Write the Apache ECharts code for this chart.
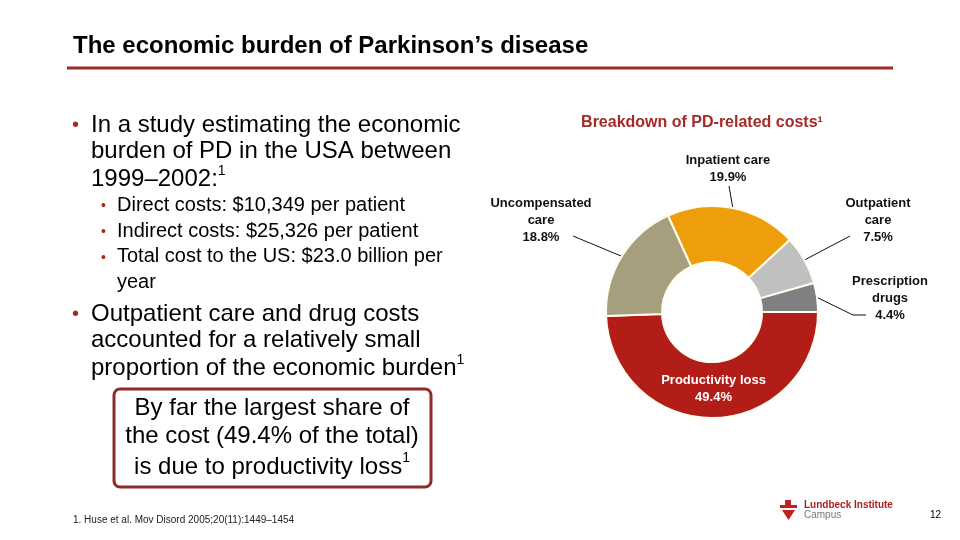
<!DOCTYPE html>
<html>
<head>
<meta charset="utf-8">
<script src="https://cdn.jsdelivr.net/npm/echarts@6/dist/echarts.min.js"></script>
<style>
  html, body { margin: 0; padding: 0; background: #fff; }
  #myChart { width: 960px; height: 540px; }
</style>
</head>
<body>
<div id="myChart"></div>
<script>
// data
var categories = ["Productivity loss", "Uncompensated\ncare", "Inpatient care", "Outpatient\ncare", "Prescription\ndrugs"];
var shares = [49.4, 18.8, 19.9, 7.5, 4.4];
var sliceColors = ["#B31D18", "#A59F80", "#EE9D0B", "#C0C0C0", "#808080"];

// where the outside labels sit (text centre) and the elbow of their leader line
var labelSpots = {
  1: { x: 541, y: 220, elbow: [573, 236] },
  2: { x: 728, y: 169, elbow: [729, 186] },
  3: { x: 878, y: 220, elbow: [850, 236] },
  4: { x: 890, y: 298, elbow: [853, 315], end: [866, 315] }
};

var FONT = "'Liberation Sans', Arial, sans-serif";
var RED = "#9E2A25";

var myChart = echarts.init(document.getElementById("myChart"));

var pieData = categories.map(function (name, i) {
  var item = { name: name, value: shares[i], itemStyle: { color: sliceColors[i] } };
  if (i === 0) {
    item.label = {
      position: "inside",
      formatter: "{w|{b}}\n{w|{c}%}",
      rich: { w: { color: "#fff", fontWeight: "bold", fontSize: 13, fontFamily: FONT, lineHeight: 17 } }
    };
    item.labelLine = { show: false };
  }
  return item;
});

var option = {
  animation: false,
  backgroundColor: "#fff",
  title: {
    text: "Breakdown of PD-related costs\u00b9",
    left: 697,
    top: 110,
    textAlign: "center",
    textStyle: { color: "#A52A2A", fontSize: 16, fontWeight: "bold", fontFamily: FONT }
  },
  series: [
    {
      type: "pie",
      center: [712, 312],
      radius: [50, 106],
      startAngle: 0,
      clockwise: true,
      avoidLabelOverlap: false,
      itemStyle: { borderColor: "#FFFDF0", borderWidth: 2 },
      label: {
        show: true,
        position: "outside",
        formatter: "{b}\n{c}%",
        color: "#111",
        fontSize: 13,
        fontWeight: "bold",
        fontFamily: FONT,
        lineHeight: 17,
        align: "center"
      },
      labelLine: { show: true, lineStyle: { color: "#111", width: 1 } },
      labelLayout: function (params) {
        if (params.dataIndex === 0) return { dy: -4 };
        var s = labelSpots[params.dataIndex];
        if (!s) return {};
        var p0 = params.labelLinePoints ? params.labelLinePoints[0] : s.elbow;
        var pts = [p0, s.elbow];
        if (s.end) pts.push(s.end);
        return {
          x: s.x,
          y: s.y,
          align: "center",
          verticalAlign: "middle",
          labelLinePoints: pts
        };
      },
      data: pieData
    }
  ],
  graphic: [
    // slide title and rule
    { type: "text", left: 73, top: 34, style: { text: "The economic burden of Parkinson\u2019s disease", font: "bold 24px " + FONT, fill: "#000" } },
    { type: "rect", shape: { x: 67, y: 66.5, width: 826, height: 3 }, style: { fill: RED } },

    // bullet 1
    { type: "text", x: 72, y: 125, style: { text: "\u2022", font: "20px " + FONT, fill: RED, verticalAlign: "middle" } },
    { type: "text", x: 91, y: 112, style: {
      text: "In a study estimating the economic\nburden of PD in the USA between\n{t|1999\u20132002:}{s|1}",
      font: "24px " + FONT, fill: "#000", lineHeight: 26,
      rich: { t: { font: "24px " + FONT, fill: "#000" }, s: { font: "14px " + FONT, fill: "#000", verticalAlign: "top", lineHeight: 30 } }
    } },

    // sub bullets
    { type: "text", x: 101, y: 206, style: { text: "\u2022", font: "14px " + FONT, fill: RED, verticalAlign: "middle" } },
    { type: "text", x: 101, y: 232, style: { text: "\u2022", font: "14px " + FONT, fill: RED, verticalAlign: "middle" } },
    { type: "text", x: 101, y: 258, style: { text: "\u2022", font: "14px " + FONT, fill: RED, verticalAlign: "middle" } },
    { type: "text", x: 117, y: 193, style: {
      text: "Direct costs: $10,349 per patient\nIndirect costs: $25,326 per patient\nTotal cost to the US: $23.0 billion per\nyear",
      font: "20px " + FONT, fill: "#000", lineHeight: 25.5
    } },

    // bullet 2
    { type: "text", x: 72, y: 314, style: { text: "\u2022", font: "20px " + FONT, fill: RED, verticalAlign: "middle" } },
    { type: "text", x: 91, y: 301, style: {
      text: "Outpatient care and drug costs\naccounted for a relatively small\n{t|proportion of the economic burden}{s|1}",
      font: "24px " + FONT, fill: "#000", lineHeight: 26,
      rich: { t: { font: "24px " + FONT, fill: "#000" }, s: { font: "14px " + FONT, fill: "#000", verticalAlign: "top", lineHeight: 30 } }
    } },

    // call-out box
    { type: "rect", shape: { x: 114, y: 389, width: 317, height: 98, r: 6 }, style: { fill: "#fff", stroke: "#8E2B2B", lineWidth: 3 } },
    { type: "text", x: 272, y: 394, style: {
      text: "By far the largest share of\nthe cost (49.4% of the total)\n{t|is due to productivity loss}{s|1}",
      font: "24px " + FONT, fill: "#000", lineHeight: 28.5, align: "center",
      rich: { t: { font: "24px " + FONT, fill: "#000" }, s: { font: "14px " + FONT, fill: "#000", verticalAlign: "top", lineHeight: 32 } }
    } },

    // footnote
    { type: "text", x: 73, y: 520, style: { text: "1. Huse et al. Mov Disord 2005;20(11):1449\u20131454", font: "10px " + FONT, fill: "#222", verticalAlign: "middle" } },

    // logo and page number
    { type: "rect", shape: { x: 785, y: 500, width: 6, height: 5 }, style: { fill: "#C0201E" } },
    { type: "rect", shape: { x: 780, y: 505, width: 17, height: 3 }, style: { fill: "#C0201E" } },
    { type: "polygon", shape: { points: [[782, 510], [795, 510], [788.5, 520]] }, style: { fill: "#C0201E" } },
    { type: "text", x: 804, y: 505, style: { text: "Lundbeck Institute", font: "bold 10px " + FONT, fill: "#B01E1E", verticalAlign: "middle" } },
    { type: "text", x: 804, y: 515, style: { text: "Campus", font: "10px " + FONT, fill: "#777", verticalAlign: "middle" } },
    { type: "text", x: 930, y: 515, style: { text: "12", font: "10px " + FONT, fill: "#000", verticalAlign: "middle" } }
  ]
};

myChart.setOption(option);
</script>
</body>
</html>
